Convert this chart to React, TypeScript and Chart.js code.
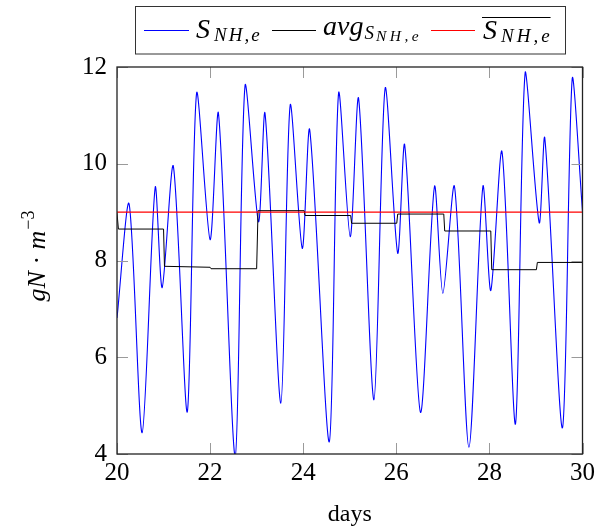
import React, { useEffect, useRef } from "react";
import { Chart, registerables } from "chart.js";

Chart.register(...registerables);

// ---- data ----
const blueDays = [
  20.0, 20.26, 20.54, 20.82, 20.97, 21.21, 21.51, 21.71, 22.0, 22.18, 22.54, 22.75,
  23.04, 23.18, 23.52, 23.72, 23.98, 24.14, 24.56, 24.76, 25.01, 25.19, 25.52, 25.76,
  26.03, 26.18, 26.52, 26.82, 27.0, 27.25, 27.56, 27.86, 28.03, 28.27, 28.56, 28.77,
  29.07, 29.19, 29.57, 29.78, 30.0,
];
const blueValues = [
  6.81, 9.17, 4.44, 9.51, 7.44, 9.95, 4.87, 11.46, 8.43, 11.04, 3.95, 11.61,
  8.8, 11.04, 5.05, 11.21, 8.25, 10.7, 4.25, 11.46, 8.49, 11.35, 5.12, 11.56,
  8.15, 10.39, 4.86, 9.53, 7.32, 9.53, 4.14, 9.53, 7.38, 10.25, 4.62, 11.9,
  8.78, 10.53, 4.54, 11.77, 9.01,
];
const avgDays = [
  20.0, 20.03, 21.0, 21.02, 22.0, 22.02, 23.0, 23.03, 24.02, 24.04, 25.02, 25.04,
  26.01, 26.03, 27.02, 27.04, 28.03, 28.05, 29.01, 29.03, 30.0,
];
const avgValues = [
  8.98, 8.65, 8.65, 7.88, 7.86, 7.83, 7.83, 9.03, 9.03, 8.93, 8.93, 8.77,
  8.77, 8.96, 8.96, 8.61, 8.61, 7.81, 7.81, 7.96, 7.96,
];
const meanDays = [20, 30];
const meanValue = 9;
const xTicks = [20, 22, 24, 26, 28, 30];
const yTicks = [4, 6, 8, 10, 12];
const xMin = 20, xMax = 30, yMin = 4, yMax = 12;

const FAMILY = "Liberation Serif";

function setFont(ctx: CanvasRenderingContext2D, size: number, italic: boolean) {
  ctx.font = `${italic ? "italic " : ""}${size}px "${FAMILY}"`;
}
// draws text with optional extra spacing between characters; returns advance
function put(ctx: CanvasRenderingContext2D, s: string, x: number, y: number, size: number, italic = true, gap = 0) {
  setFont(ctx, size, italic);
  if (!gap) {
    ctx.fillText(s, x, y);
    return ctx.measureText(s).width;
  }
  let cx = x;
  for (const ch of s) {
    ctx.fillText(ch, cx, y);
    cx += ctx.measureText(ch).width + gap;
  }
  return cx - x - gap;
}
function measure(ctx: CanvasRenderingContext2D, s: string, size: number, italic = true) {
  setFont(ctx, size, italic);
  return ctx.measureText(s).width;
}

const decor = {
  id: "decor",
  afterDatasetsDraw(chart: any) {
    const { ctx, chartArea: a, scales } = chart;
    ctx.save();
    // inner ticks on all sides
    ctx.strokeStyle = "#9a9a9a";
    ctx.lineWidth = 1;
    const tl = 11;
    ctx.beginPath();
    xTicks.forEach((v) => {
      const p = Math.round(scales.x.getPixelForValue(v)) + 0.5;
      ctx.moveTo(p, a.bottom); ctx.lineTo(p, a.bottom - tl);
      ctx.moveTo(p, a.top); ctx.lineTo(p, a.top + tl);
    });
    yTicks.forEach((v) => {
      const p = Math.round(scales.y.getPixelForValue(v)) + 0.5;
      ctx.moveTo(a.left, p); ctx.lineTo(a.left + tl, p);
      ctx.moveTo(a.right, p); ctx.lineTo(a.right - tl, p);
    });
    ctx.stroke();
    // frame
    ctx.strokeStyle = "#222";
    ctx.lineWidth = 1.3;
    ctx.strokeRect(a.left, a.top, a.right - a.left, a.bottom - a.top);

    ctx.fillStyle = "#000";
    ctx.textBaseline = "alphabetic";

    // x title
    ctx.textAlign = "center";
    put(ctx, "days", (a.left + a.right) / 2, 521, 24, false);
    ctx.textAlign = "left";

    // y title (rotated)
    ctx.save();
    ctx.translate(45, 256);
    ctx.rotate(-Math.PI / 2);
    const wg = measure(ctx, "gN", 26);
    const wd = measure(ctx, " · ", 26, false);
    const wm = measure(ctx, "m", 26);
    const ws = measure(ctx, "−3", 18, false);
    let x0 = -(wg + wd + wm + ws + 1) / 2;
    x0 += put(ctx, "gN", x0, 0, 26);
    x0 += put(ctx, " · ", x0, 0, 26, false);
    x0 += put(ctx, "m", x0, 0, 26) + 1;
    put(ctx, "−3", x0, -11, 18, false);
    ctx.restore();

    // legend
    ctx.strokeStyle = "#333";
    ctx.lineWidth = 1;
    ctx.strokeRect(135.5, 6.5, 430, 47.5);
    const ly = 30.5;
    const seg = (x1: number, x2: number, c: string) => {
      ctx.strokeStyle = c; ctx.lineWidth = 1;
      ctx.beginPath(); ctx.moveTo(x1, ly); ctx.lineTo(x2, ly); ctx.stroke();
    };
    seg(144, 189, "#0000ff");
    let x = 196;
    x += put(ctx, "S", x, 38, 28) + 4;
    put(ctx, "NH,e", x, 41, 19, true, 2);

    seg(272, 316, "#000");
    x = 323;
    x += put(ctx, "avg", x, 35, 28) + 1;
    x += put(ctx, "S", x, 39, 19) + 2;
    put(ctx, "NH,e", x, 41, 15.5, true, 3.5);

    seg(431, 475, "#ff0000");
    x = 483;
    const xs = x;
    x += put(ctx, "S", x, 39, 28) + 4;
    x += put(ctx, "NH,e", x, 42, 19, true, 3);
    ctx.strokeStyle = "#000";
    ctx.lineWidth = 1;
    ctx.beginPath(); ctx.moveTo(xs - 1, 17.5); ctx.lineTo(x + 1, 17.5); ctx.stroke();

    ctx.restore();
  },
};

export default function App() {
  const ref = useRef<HTMLCanvasElement | null>(null);
  useEffect(() => {
    document.body.style.margin = "0";
    const canvas = ref.current!;
    const toPts = (xs: number[], ys: number[]) => xs.map((d, i) => ({ x: d, y: ys[i] }));
    const chart = new Chart(canvas, {
      type: "line",
      data: {
        datasets: [
          {
            data: toPts(meanDays, meanDays.map(() => meanValue)),
            borderColor: "#ff0000",
            borderWidth: 1.2,
            pointRadius: 0,
            order: 0,
          },
          {
            data: toPts(avgDays, avgValues),
            borderColor: "#000000",
            borderWidth: 1,
            pointRadius: 0,
            order: 1,
          },
          {
            data: toPts(blueDays, blueValues),
            borderColor: "#0000ff",
            borderWidth: 1.1,
            pointRadius: 0,
            tension: 0.28,
            order: 2,
          },
        ],
      },
      options: {
        animation: false,
        responsive: false,
        layout: { padding: { top: 67, right: 16, left: 0, bottom: 0 } },
        plugins: { legend: { display: false }, tooltip: { enabled: false } },
        font: { family: FAMILY },
        scales: {
          x: {
            type: "linear",
            min: xMin,
            max: xMax,
            afterFit: (s: any) => { s.height = 77; },
            afterBuildTicks: (s: any) => { s.ticks = xTicks.map((v) => ({ value: v })); },
            grid: { display: false, drawTicks: false },
            border: { display: false },
            ticks: { color: "#000", font: { family: FAMILY, size: 25 }, padding: 4, maxRotation: 0 },
          },
          y: {
            type: "linear",
            min: yMin,
            max: yMax,
            afterFit: (s: any) => { s.width = 117; },
            afterBuildTicks: (s: any) => { s.ticks = yTicks.map((v) => ({ value: v })); },
            grid: { display: false, drawTicks: false },
            border: { display: false },
            ticks: { color: "#000", font: { family: FAMILY, size: 25 }, padding: 10 },
          },
        },
      } as any,
      plugins: [decor],
    });
    return () => chart.destroy();
  }, []);
  return (
    <div style={{ width: 599, height: 531 }}>
      <canvas ref={ref} width={599} height={531} />
    </div>
  );
}
